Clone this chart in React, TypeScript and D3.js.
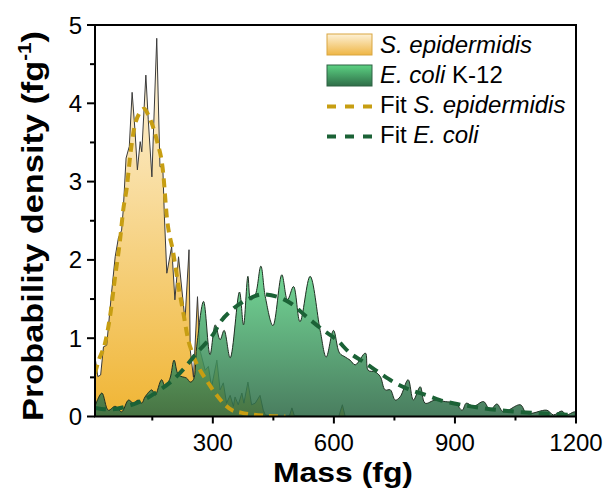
import { useEffect, useRef } from 'react';
import * as d3 from 'd3';

// S. epidermidis mass distribution (fg, fg^-1)
const sepiMass = [8, 15, 22, 29, 37, 49, 58, 66, 74, 78, 85, 93, 100, 107, 113, 120, 124, 134, 140, 149, 161, 169, 176, 180, 186, 198, 206, 215, 231, 241, 244, 252, 262, 268, 281, 289, 297, 310, 318, 326, 334, 343, 351, 355, 363, 372, 377, 387, 396, 405, 417, 425, 430, 440, 480, 490, 496, 502, 612, 621, 628, 1200];
const sepiDensity = [0.76, 0.51, 0.53, 0.89, 0.91, 1.58, 2.04, 2.28, 2.38, 2.64, 3.30, 3.45, 4.14, 3.66, 3.15, 3.51, 3.38, 4.36, 3.79, 3.06, 4.83, 3.19, 3.19, 2.55, 1.83, 2.17, 1.49, 2.04, 1.23, 2.13, 0.85, 0.50, 1.53, 0.85, 0.59, 0.64, 0.38, 0.72, 0.34, 0.43, 0.17, 0.27, 0.13, 0.25, 0.15, 0.30, 0.17, 0.44, 0.15, 0.17, 0.27, 0.08, 0.02, 0.01, 0, 0.01, 0.11, 0.01, 0, 0.15, 0, 0];

// E. coli K-12 mass distribution
const ecoliMass = [8, 25, 41, 58, 74, 91, 103, 115, 124, 132, 149, 157, 173, 182, 194, 204, 215, 235, 244, 252, 260, 277, 293, 306, 318, 328, 343, 366, 376, 387, 394, 405, 419, 430, 449, 471, 485, 500, 516, 541, 566, 581, 599, 614, 628, 640, 653, 678, 685, 702, 715, 727, 740, 752, 764, 784, 797, 814, 826, 851, 876, 901, 918, 928, 946, 971, 987, 1004, 1020, 1062, 1078, 1128, 1144, 1165, 1176, 1196, 1200];
const ecoliDensity = [0.13, 0.30, 0.08, 0.13, 0.06, 0.21, 0.17, 0.21, 0.17, 0.25, 0.34, 0.27, 0.47, 0.38, 0.49, 0.72, 0.53, 0.49, 0.44, 0.47, 0.89, 1.47, 0.79, 1.17, 0.98, 1.10, 0.75, 1.59, 1.17, 1.79, 1.49, 1.55, 1.92, 1.53, 1.16, 1.81, 1.49, 1.66, 1.21, 1.79, 1.10, 0.76, 1.10, 0.81, 0.76, 0.72, 0.66, 0.81, 0.59, 0.57, 0.51, 0.34, 0.34, 0.21, 0.25, 0.47, 0.21, 0.38, 0.17, 0.21, 0.19, 0.17, 0.08, 0.17, 0.13, 0.19, 0.08, 0.16, 0.06, 0.15, 0.04, 0.08, 0.02, 0.07, 0.02, 0.06, 0.05];

// fitted curves
const fitSepiMass = [8, 16, 33, 45, 58, 70, 78, 87, 95, 103, 120, 130, 140, 161, 177, 186, 202, 215, 227, 239, 250, 262, 272, 286, 300, 310, 330, 348, 370, 392, 430, 480];
const fitSepiDensity = [0.55, 0.70, 0.94, 1.27, 1.79, 2.25, 2.64, 2.93, 3.32, 3.62, 3.89, 3.93, 3.85, 3.53, 3.11, 2.55, 2.09, 1.66, 1.32, 0.98, 0.80, 0.65, 0.56, 0.45, 0.34, 0.27, 0.15, 0.08, 0.05, 0.03, 0.01, 0];
const fitEcoliMass = [8, 45, 87, 128, 169, 202, 235, 260, 285, 301, 318, 347, 384, 425, 459, 492, 533, 574, 607, 640, 673, 715, 748, 789, 831, 863, 905, 963, 1030, 1111, 1200];
const fitEcoliDensity = [0.11, 0.09, 0.13, 0.21, 0.34, 0.47, 0.65, 0.81, 0.95, 1.05, 1.20, 1.36, 1.49, 1.56, 1.53, 1.45, 1.27, 1.10, 0.98, 0.81, 0.70, 0.55, 0.44, 0.34, 0.27, 0.21, 0.16, 0.11, 0.07, 0.04, 0.02];

const xTicks = [300, 600, 900, 1200];
const xMinor = [150, 450, 750, 1050];
const yTicks = [0, 1, 2, 3, 4, 5];
const yMinor = [0.5, 1.5, 2.5, 3.5, 4.5];

const FONT = '"Liberation Sans", Arial, sans-serif';

const zip = (xs: number[], ys: number[]) => xs.map((x, i) => [x, ys[i]] as [number, number]);

const App = () => {
  const ref = useRef<SVGSVGElement>(null);

  useEffect(() => {
    const svg = d3.select(ref.current);
    svg.selectAll('*').remove();

    const left = 95, right = 576, top = 25, bottom = 416.5;

    const x = d3.scaleLinear().domain([8, 1200]).range([left, right]);
    const y = d3.scaleLinear().domain([0, 5]).range([bottom, top]);

    const defs = svg.append('defs');
    defs.append('clipPath').attr('id', 'plot-clip')
      .append('rect').attr('x', left).attr('y', top).attr('width', right - left).attr('height', bottom - top);

    const grad = (id: string, y1: number, y2: number, c1: string, c2: string, user = true) => {
      const g = defs.append('linearGradient').attr('id', id)
        .attr('x1', 0).attr('x2', 0).attr('y1', y1).attr('y2', y2);
      if (user) g.attr('gradientUnits', 'userSpaceOnUse');
      g.append('stop').attr('offset', '0%').attr('stop-color', c1);
      g.append('stop').attr('offset', '100%').attr('stop-color', c2);
    };
    grad('sepi-grad', y(4.85), y(0), '#fef7e6', '#f0b534');
    grad('ecoli-grad', y(1.95), y(0), '#5fd688', '#2c6845');
    grad('sepi-leg', 0, 1, '#fdf1d6', '#efb645', false);
    grad('ecoli-leg', 0, 1, '#5cd283', '#2f6e48', false);

    const plot = svg.append('g').attr('clip-path', 'url(#plot-clip)');

    const sepi = zip(sepiMass, sepiDensity);
    const ecoli = zip(ecoliMass, ecoliDensity);

    // S. epidermidis: jagged, straight segments
    const areaLin = d3.area<[number, number]>().x(d => x(d[0])).y0(y(0)).y1(d => y(d[1]));
    const lineLin = d3.line<[number, number]>().x(d => x(d[0])).y(d => y(d[1]));

    plot.append('path').datum(sepi).attr('d', areaLin).attr('fill', 'url(#sepi-grad)');
    plot.append('path').datum(sepi).attr('d', lineLin)
      .attr('fill', 'none').attr('stroke', '#3a3a3a').attr('stroke-width', 1);

    // E. coli: rounded peaks
    const areaRound = d3.area<[number, number]>().x(d => x(d[0])).y0(y(0)).y1(d => Math.min(y(d[1]), y(0)))
      .curve(d3.curveCatmullRom.alpha(0.5));
    const lineRound = d3.line<[number, number]>().x(d => x(d[0])).y(d => y(d[1]))
      .curve(d3.curveCatmullRom.alpha(0.5));
    const lineSmooth = d3.line<[number, number]>().x(d => x(d[0])).y(d => y(d[1])).curve(d3.curveMonotoneX);

    plot.append('path').datum(ecoli).attr('d', areaRound)
      .attr('fill', 'url(#ecoli-grad)').attr('opacity', 0.86);
    plot.append('path').datum(ecoli).attr('d', lineRound)
      .attr('fill', 'none').attr('stroke', '#1f2f22').attr('stroke-width', 1);

    // fits
    plot.append('path').datum(zip(fitSepiMass, fitSepiDensity)).attr('d', lineSmooth)
      .attr('fill', 'none').attr('stroke', '#c79e12').attr('stroke-width', 4)
      .attr('stroke-dasharray', '9,6');
    plot.append('path').datum(zip(fitEcoliMass, fitEcoliDensity)).attr('d', lineSmooth)
      .attr('fill', 'none').attr('stroke', '#1b6236').attr('stroke-width', 4)
      .attr('stroke-dasharray', '11,7');

    // frame
    svg.append('rect').attr('x', left).attr('y', top)
      .attr('width', right - left).attr('height', bottom - top)
      .attr('fill', 'none').attr('stroke', '#000').attr('stroke-width', 2);

    // ticks
    const ax = svg.append('g').attr('stroke', '#000').attr('stroke-width', 2);
    xTicks.forEach(t => ax.append('line').attr('x1', x(t)).attr('x2', x(t)).attr('y1', bottom).attr('y2', bottom + 7));
    xMinor.forEach(t => ax.append('line').attr('x1', x(t)).attr('x2', x(t)).attr('y1', bottom).attr('y2', bottom + 4));
    yTicks.forEach(t => ax.append('line').attr('x1', left - 8).attr('x2', left).attr('y1', y(t)).attr('y2', y(t)));
    yMinor.forEach(t => ax.append('line').attr('x1', left - 5).attr('x2', left).attr('y1', y(t)).attr('y2', y(t)));

    const txt = svg.append('g').attr('font-family', FONT).attr('fill', '#000');
    xTicks.forEach(t => txt.append('text').attr('x', x(t)).attr('y', 451)
      .attr('text-anchor', 'middle').attr('font-size', 24).text(t));
    yTicks.forEach(t => txt.append('text').attr('x', 82).attr('y', y(t) + 8.5)
      .attr('text-anchor', 'end').attr('font-size', 24).text(t));

    txt.append('text').attr('x', 343).attr('y', 482).attr('text-anchor', 'middle')
      .attr('font-size', 28).attr('font-weight', 'bold')
      .attr('textLength', 140).attr('lengthAdjust', 'spacingAndGlyphs')
      .text('Mass (fg)');

    const yt = txt.append('text').attr('transform', 'translate(43,226) rotate(-90)')
      .attr('text-anchor', 'middle').attr('font-size', 30).attr('font-weight', 'bold')
      .attr('textLength', 390).attr('lengthAdjust', 'spacingAndGlyphs');
    yt.append('tspan').text('Probability density (fg');
    yt.append('tspan').attr('font-size', 18).attr('dy', -12).text('-1');
    yt.append('tspan').attr('dy', 12).text(')');

    // legend
    const lg = svg.append('g').attr('font-family', FONT).attr('font-size', 24);
    lg.append('rect').attr('x', 327).attr('y', 34).attr('width', 45).attr('height', 21)
      .attr('fill', 'url(#sepi-leg)').attr('stroke', '#d9a640').attr('stroke-width', 1);
    lg.append('rect').attr('x', 327).attr('y', 65).attr('width', 45).attr('height', 21)
      .attr('fill', 'url(#ecoli-leg)').attr('stroke', '#2f6244').attr('stroke-width', 1);
    lg.append('line').attr('x1', 327).attr('x2', 372).attr('y1', 106.5).attr('y2', 106.5)
      .attr('stroke', '#c79e12').attr('stroke-width', 4).attr('stroke-dasharray', '9,9');
    lg.append('line').attr('x1', 327).attr('x2', 372).attr('y1', 136.5).attr('y2', 136.5)
      .attr('stroke', '#1b6236').attr('stroke-width', 4).attr('stroke-dasharray', '9,9');

    const t1 = lg.append('text').attr('x', 380).attr('y', 53);
    t1.append('tspan').attr('font-style', 'italic').text('S. epidermidis');
    const t2 = lg.append('text').attr('x', 380).attr('y', 83);
    t2.append('tspan').attr('font-style', 'italic').text('E. coli');
    t2.append('tspan').text(' K-12');
    const t3 = lg.append('text').attr('x', 380).attr('y', 113);
    t3.append('tspan').text('Fit ');
    t3.append('tspan').attr('font-style', 'italic').text('S. epidermidis');
    const t4 = lg.append('text').attr('x', 380).attr('y', 143);
    t4.append('tspan').text('Fit ');
    t4.append('tspan').attr('font-style', 'italic').text('E. coli');
  }, []);

  return (
    <svg ref={ref} width={608} height={490}
      style={{ position: 'absolute', left: 0, top: 0, background: '#fff' }} />
  );
};

export default App;
